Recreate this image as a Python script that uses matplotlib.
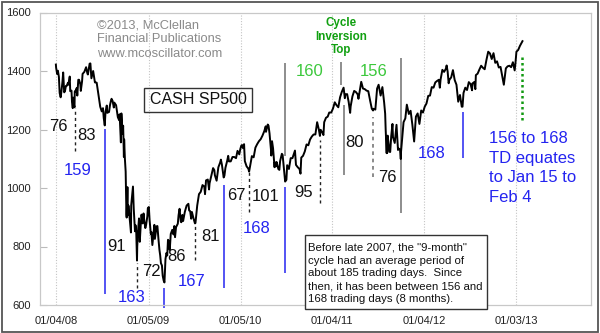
import matplotlib
matplotlib.use('Agg')
import matplotlib.pyplot as plt
import pandas as pd
from matplotlib.patches import Rectangle

plt.rcParams['font.family'] = ['Liberation Sans', 'DejaVu Sans']

# S&P 500 closes (about weekly plus the turning points)
d2008 = ['2008-01-03','2008-01-04','2008-01-08','2008-01-11','2008-01-15','2008-01-18','2008-01-22','2008-01-25',
         '2008-01-29','2008-02-01','2008-02-05','2008-02-08','2008-02-12','2008-02-15','2008-02-20','2008-02-22',
         '2008-02-27','2008-02-29','2008-03-05','2008-03-07','2008-03-10','2008-03-12','2008-03-14','2008-03-17',
         '2008-03-18','2008-03-20','2008-03-26','2008-03-28','2008-04-01','2008-04-04','2008-04-09','2008-04-11',
         '2008-04-16','2008-04-18','2008-04-25','2008-05-02','2008-05-07','2008-05-09','2008-05-16','2008-05-19',
         '2008-05-23','2008-05-30','2008-06-06','2008-06-09','2008-06-13','2008-06-20','2008-06-27','2008-07-03',
         '2008-07-08','2008-07-11','2008-07-15','2008-07-18','2008-07-23','2008-07-25','2008-08-01','2008-08-05',
         '2008-08-08','2008-08-11','2008-08-15','2008-08-20','2008-08-22','2008-08-29','2008-09-05','2008-09-10',
         '2008-09-12','2008-09-15','2008-09-17','2008-09-19','2008-09-24','2008-09-26','2008-09-29','2008-09-30',
         '2008-10-03','2008-10-06','2008-10-09','2008-10-10','2008-10-13','2008-10-15','2008-10-17','2008-10-22',
         '2008-10-24','2008-10-27','2008-10-28','2008-10-31','2008-11-04','2008-11-07','2008-11-12','2008-11-14',
         '2008-11-17','2008-11-20','2008-11-21','2008-11-24','2008-11-28','2008-12-01','2008-12-05','2008-12-08',
         '2008-12-12','2008-12-16','2008-12-19','2008-12-23','2008-12-26','2008-12-31']
c2008 = [1422,1411,1390,1401,1380,1325,1310,1330,1362,1395,1327,1331,1349,1349,1360,1353,
         1381,1331,1333,1294,1273,1309,1288,1276,1330,1330,1342,1316,1370,1370,1355,1332,
         1365,1390,1397,1413,1392,1388,1425,1426,1375,1400,1361,1361,1360,1318,1278,1262,
         1273,1239,1214,1260,1282,1257,1260,1284,1296,1305,1298,1275,1292,1283,1242,1232,
         1252,1193,1156,1255,1185,1213,1106,1166,1099,1056,910,899,1003,908,940,896,
         877,848,941,968,1005,930,852,873,850,752,800,852,896,816,876,909,
         879,913,887,863,873,903]

d2009 = ['2009-01-02','2009-01-06','2009-01-09','2009-01-14','2009-01-16','2009-01-20','2009-01-23','2009-01-28',
         '2009-01-30','2009-02-06','2009-02-09','2009-02-13','2009-02-17','2009-02-20','2009-02-23','2009-02-27',
         '2009-03-02','2009-03-06','2009-03-09','2009-03-13','2009-03-17','2009-03-20','2009-03-23','2009-03-27',
         '2009-03-30','2009-04-03','2009-04-09','2009-04-14','2009-04-17','2009-04-20','2009-04-24','2009-05-01',
         '2009-05-04','2009-05-08','2009-05-13','2009-05-15','2009-05-19','2009-05-22','2009-05-29','2009-06-05',
         '2009-06-12','2009-06-15','2009-06-19','2009-06-23','2009-06-26','2009-07-02','2009-07-08','2009-07-10',
         '2009-07-17','2009-07-24','2009-07-31','2009-08-07','2009-08-14','2009-08-17','2009-08-21','2009-08-28',
         '2009-09-02','2009-09-04','2009-09-11','2009-09-18','2009-09-23','2009-09-25','2009-10-02','2009-10-09',
         '2009-10-16','2009-10-19','2009-10-23','2009-10-30','2009-11-02','2009-11-06','2009-11-13','2009-11-17',
         '2009-11-20','2009-11-27','2009-12-04','2009-12-11','2009-12-18','2009-12-24','2009-12-31']
c2009 = [931,935,890,842,850,805,832,874,826,869,870,827,789,770,743,735,
         700,683,677,757,778,769,823,816,788,843,857,841,870,832,866,878,
         907,929,884,883,908,887,919,940,946,923,921,895,918,897,879,880,
         940,979,987,1010,1005,979,1026,1029,995,1016,1042,1068,1061,1044,1025,1071,
         1087,1097,1080,1036,1042,1069,1093,1110,1091,1091,1106,1106,1102,1127,1115]

d2010 = ['2010-01-04','2010-01-08','2010-01-11','2010-01-15','2010-01-19','2010-01-22','2010-01-29','2010-02-05',
         '2010-02-08','2010-02-12','2010-02-19','2010-02-26','2010-03-05','2010-03-12','2010-03-19','2010-03-26',
         '2010-04-02','2010-04-09','2010-04-15','2010-04-16','2010-04-23','2010-04-26','2010-04-30','2010-05-06',
         '2010-05-07','2010-05-10','2010-05-14','2010-05-20','2010-05-21','2010-05-25','2010-05-28','2010-06-04',
         '2010-06-08','2010-06-11','2010-06-18','2010-06-21','2010-06-25','2010-06-29','2010-07-01','2010-07-06',
         '2010-07-09','2010-07-16','2010-07-23','2010-07-30','2010-08-06','2010-08-09','2010-08-13','2010-08-20',
         '2010-08-27','2010-08-31','2010-09-03','2010-09-10','2010-09-17','2010-09-24','2010-10-01','2010-10-08',
         '2010-10-15','2010-10-22','2010-10-29','2010-11-05','2010-11-12','2010-11-16','2010-11-19','2010-11-26',
         '2010-11-30','2010-12-03','2010-12-10','2010-12-17','2010-12-23','2010-12-31']
c2010 = [1133,1145,1147,1136,1150,1092,1074,1066,1056,1075,1109,1105,1138,1150,1160,1167,
         1179,1194,1211,1192,1217,1213,1187,1128,1111,1160,1136,1071,1088,1074,1089,1065,
         1062,1092,1117,1113,1076,1041,1022,1028,1078,1065,1102,1102,1121,1128,1079,1071,
         1065,1049,1104,1110,1125,1149,1146,1166,1176,1183,1183,1225,1199,1178,1199,1189,
         1181,1225,1240,1244,1258,1258]

d2011 = ['2011-01-07','2011-01-14','2011-01-21','2011-01-28','2011-02-04','2011-02-11','2011-02-18','2011-02-23',
         '2011-02-25','2011-03-04','2011-03-10','2011-03-16','2011-03-18','2011-03-25','2011-04-01','2011-04-08',
         '2011-04-15','2011-04-18','2011-04-29','2011-05-06','2011-05-13','2011-05-20','2011-05-27','2011-06-03',
         '2011-06-10','2011-06-15','2011-06-17','2011-06-24','2011-07-01','2011-07-07','2011-07-15','2011-07-22',
         '2011-07-29','2011-08-02','2011-08-04','2011-08-08','2011-08-09','2011-08-10','2011-08-11','2011-08-12',
         '2011-08-19','2011-08-22','2011-08-26','2011-08-31','2011-09-02','2011-09-09','2011-09-16','2011-09-22',
         '2011-09-23','2011-09-30','2011-10-03','2011-10-04','2011-10-07','2011-10-14','2011-10-21','2011-10-27',
         '2011-11-04','2011-11-11','2011-11-18','2011-11-25','2011-12-02','2011-12-09','2011-12-16','2011-12-23',
         '2011-12-30']
c2011 = [1272,1293,1283,1276,1310,1329,1343,1307,1320,1321,1295,1257,1279,1313,1332,1328,
         1320,1305,1363,1340,1338,1333,1331,1300,1271,1265,1271,1268,1340,1353,1316,1345,
         1292,1254,1200,1119,1172,1120,1172,1179,1124,1123,1177,1219,1174,1154,1216,1130,
         1136,1131,1099,1124,1155,1225,1238,1285,1253,1264,1216,1159,1244,1255,1219,1265,
         1258]

d2012 = ['2012-01-06','2012-01-13','2012-01-20','2012-01-27','2012-02-03','2012-02-10','2012-02-17','2012-02-24',
         '2012-03-02','2012-03-06','2012-03-09','2012-03-16','2012-03-23','2012-03-30','2012-04-02','2012-04-06',
         '2012-04-10','2012-04-13','2012-04-20','2012-04-27','2012-05-04','2012-05-11','2012-05-18','2012-05-25',
         '2012-06-01','2012-06-04','2012-06-08','2012-06-15','2012-06-22','2012-06-29','2012-07-06','2012-07-12',
         '2012-07-13','2012-07-20','2012-07-25','2012-07-27','2012-08-03','2012-08-10','2012-08-17','2012-08-24',
         '2012-08-31','2012-09-07','2012-09-14','2012-09-21','2012-09-28','2012-10-05','2012-10-12','2012-10-19',
         '2012-10-26','2012-11-02','2012-11-09','2012-11-15','2012-11-16','2012-11-23','2012-11-30','2012-12-07',
         '2012-12-14','2012-12-21','2012-12-28','2012-12-31','2013-01-04','2013-01-11','2013-01-18','2013-01-28']
c2012 = [1278,1289,1315,1316,1345,1343,1361,1366,1370,1343,1371,1404,1397,1408,1419,1398,
         1358,1370,1378,1403,1369,1353,1295,1318,1278,1278,1325,1343,1335,1362,1355,1334,
         1357,1362,1338,1386,1391,1405,1418,1411,1406,1438,1466,1460,1441,1461,1428,1433,
         1412,1414,1380,1353,1360,1409,1416,1418,1413,1430,1402,1426,1466,1472,1486,1502]

# x axis
tick_dates = ['2008-01-04', '2009-01-05', '2010-01-05', '2011-01-04', '2012-01-04', '2013-01-03']
tick_labels = ['01/04/08', '01/05/09', '01/05/10', '01/04/11', '01/04/12', '01/03/13']
y_ticks = [600, 800, 1000, 1200, 1400, 1600]

# cycle lows (blue), dashed black half-cycle lows, grey markers
blue_dates = ['2008-07-15', '2009-03-09', '2009-11-02', '2010-07-01', '2012-06-04']
blue_lo = [638, 590, 658, 709, 1103]
blue_hi = [1202, 659, 1010, 1003, 1260]

dash_dates = ['2008-03-17', '2008-11-20', '2009-07-08', '2010-02-08', '2010-11-16']
dash_lo = [1125, 659, 754, 918, 949]
dash_hi = [1272, 743, 873, 1054, 1164]

gdash_dates = ['2011-06-15']
gdash_lo = [1037]
gdash_hi = [1243]

grey_dates = ['2010-07-01', '2011-02-08', '2011-02-18', '2011-10-04']
grey_lo = [1109, 1352, 1044, 914]
grey_hi = [1427, 1430, 1284, 1444]

green_date = ['2013-01-28']
green_lo = [1232]
green_hi = [1448]

W, H = 600, 333
fig = plt.figure(figsize=(6, 3.33), dpi=100)


def fx(x):
    return x / W


def fy(y):
    return 1 - y / H


ax = fig.add_axes([fx(40), fy(305), (591 - 40) / W, (305 - 12.5) / H])

dates = pd.to_datetime(d2008 + d2009 + d2010 + d2011 + d2012)
close = c2008 + c2009 + c2010 + c2011 + c2012

blue = '#2424f0'
ax.vlines(pd.to_datetime(blue_dates), blue_lo, blue_hi, color=blue, lw=1.1, clip_on=False, zorder=2)
ax.vlines(pd.to_datetime(dash_dates), dash_lo, dash_hi, color='#222222', lw=1.0,
          linestyles=(0, (2.2, 2.2)), zorder=2)
ax.vlines(pd.to_datetime(gdash_dates), gdash_lo, gdash_hi, color='#777777', lw=1.2,
          linestyles=(0, (2.2, 2.2)), zorder=2)
ax.vlines(pd.to_datetime(grey_dates), grey_lo, grey_hi, color='#7a7a7a', lw=1.2, zorder=2)
ax.vlines(pd.to_datetime(green_date), green_lo, green_hi, color='#119911', lw=1.8,
          linestyles=(0, (1.0, 1.2)), zorder=2)

ax.plot(dates, close, color='black', lw=1.4, zorder=3)

ax.set_xlim(pd.Timestamp('2007-11-01'), pd.Timestamp('2013-10-27'))
ax.set_ylim(600, 1600)
ax.set_xticks(pd.to_datetime(tick_dates))
ax.set_xticklabels(tick_labels)
ax.set_yticks(y_ticks)
ax.set_yticklabels([str(v) for v in y_ticks])
ax.tick_params(axis='x', length=0, pad=8, labelsize=8, labelcolor='#222222')
ax.tick_params(axis='y', direction='in', length=5, width=0.8, color='#bbbbbb',
               pad=6.5, labelsize=8, labelcolor='#222222')
ax.grid(axis='x', color='#c4c4c4', lw=0.8, linestyle=(0, (1, 1.5)))
for s in ax.spines.values():
    s.set_color('#c8c8c8')
    s.set_linewidth(0.9)

# outer frame
fig.patches.append(Rectangle((fx(1.5), fy(331.5)), fx(596.5), (330) / H, transform=fig.transFigure,
                             fill=False, ec='#555555', lw=1.3))


def txt(x, y, s, color='#111111', size=12, ha='center', weight='normal'):
    fig.text(fx(x), fy(y), s, ha=ha, va='baseline', color=color, fontsize=size, fontweight=weight)


# copyright
for i, line in enumerate(['\u00a92013, McClellan', 'Financial Publications', 'www.mcoscillator.com']):
    txt(97, 28 + i * 14.5, line, color='#8a8a8a', size=9.3, ha='left')

# CASH SP500 box
fig.patches.append(Rectangle((fx(144), fy(112)), (252 - 144) / W, 24 / H, transform=fig.transFigure,
                             fill=False, ec='#333333', lw=1.0))
txt(198, 104, 'CASH SP500', size=11.5)

# cycle counts
black_counts = [('76', 58, 131), ('83', 87, 140), ('91', 117, 251), ('72', 151, 276), ('86', 177, 261),
                ('81', 210, 241), ('67', 236, 200), ('101', 266, 201), ('95', 304, 197),
                ('80', 355, 147), ('76', 387, 182)]
for s, x, y in black_counts:
    txt(x, y, s)
blue_counts = [('159', 78, 175), ('163', 132, 302), ('167', 192, 286), ('168', 257, 233), ('168', 432, 158)]
for s, x, y in blue_counts:
    txt(x, y, s, color=blue)
green_counts = [('160', 310, 76), ('156', 374, 76)]
for s, x, y in green_counts:
    txt(x, y, s, color='#3cc83c')

for i, line in enumerate(['Cycle', 'Inversion', 'Top']):
    txt(341, 26 + i * 13.7, line, color='#11a011', size=8.4, weight='bold')

for i, line in enumerate(['156 to 168', 'TD equates', 'to Jan 15 to', 'Feb 4']):
    txt(489, 143 + i * 19.7, line, color=blue, ha='left')

# note box
fig.patches.append(Rectangle((fx(305), fy(309)), (487 - 305) / W, (309 - 235) / H, transform=fig.transFigure,
                             fc='white', ec='#333333', lw=1.0, zorder=5))
note = ['Before late 2007, the "9-month"', 'cycle had an average period of',
        'about 185 trading days.  Since', 'then, it has been between 156 and',
        '168 trading days (8 months).']
for i, line in enumerate(note):
    fig.text(fx(308), fy(251 + i * 12.75), line, ha='left', va='baseline', fontsize=8.2,
             color='#111111', zorder=6)

fig.savefig('out.png', dpi=100)
